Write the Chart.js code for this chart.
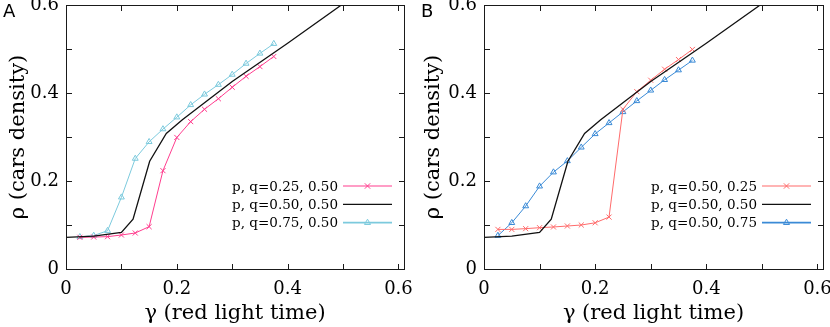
<!DOCTYPE html>
<html>
<head>
<meta charset="utf-8">
<script src="https://cdn.jsdelivr.net/npm/chart.js@4.4.1/dist/chart.umd.min.js"></script>
<style>
  body { margin: 0; background: #fff; }
  #wrap { position: relative; width: 830px; height: 327px; }
  canvas { position: absolute; top: 0; }
  .frame { position: absolute; box-sizing: border-box; border: 1px solid #1a1a1a; pointer-events: none; }
  .tick { position: absolute; background: #1a1a1a; pointer-events: none; }
</style>
</head>
<body>
<div id="wrap">
  <canvas id="chartA" width="415" height="327" style="left:0"></canvas>
  <canvas id="chartB" width="415" height="327" style="left:415px"></canvas>
</div>
<script>
// red light time, sampled points
const gamma = [0.025, 0.05, 0.075, 0.1, 0.125, 0.15, 0.175, 0.2, 0.225, 0.25, 0.275, 0.3, 0.325, 0.35, 0.375];
// p, q = 0.50, 0.50 curve (no markers)
const gammaCurve = [0, 0.05, 0.1, 0.121, 0.151, 0.181, 0.21, 0.3, 0.4, 0.497];
const rhoCurve = [0.072, 0.0745, 0.083, 0.113, 0.245, 0.308, 0.339, 0.426, 0.513, 0.6];

// panel A
const rhoA_p025 = [0.072, 0.0727, 0.0735, 0.0773, 0.0818, 0.0962, 0.2235, 0.299, 0.335, 0.363, 0.387, 0.413, 0.438, 0.46, 0.483];
const rhoA_p075 = [0.073, 0.076, 0.087, 0.163, 0.251, 0.289, 0.318, 0.345, 0.373, 0.397, 0.419, 0.442, 0.467, 0.49, 0.512];
// panel B
const rhoB_q025 = [0.09, 0.09, 0.0917, 0.0939, 0.0955, 0.0977, 0.1, 0.105, 0.118, 0.363, 0.403, 0.429, 0.454, 0.476, 0.499];
const rhoB_q075 = [0.0758, 0.105, 0.143, 0.188, 0.22, 0.2455, 0.2765, 0.307, 0.332, 0.357, 0.382, 0.406, 0.43, 0.452, 0.474];

const labelsA = ['p, q=0.25, 0.50', 'p, q=0.50, 0.50', 'p, q=0.75, 0.50'];
const labelsB = ['p, q=0.50, 0.25', 'p, q=0.50, 0.50', 'p, q=0.50, 0.75'];

const tickValues = [0, 0.2, 0.4, 0.6];
const tickLabels = ['0', '0.2', '0.4', '0.6'];
const xMarks = [0.1, 0.2, 0.3, 0.4, 0.5, 0.6];
const yMarks = [0.1, 0.2, 0.3, 0.4, 0.5];

const pts = (xs, ys) => xs.map((x, i) => ({x: x, y: ys[i]}));

function drawFrame(chart) {
    const ctx = chart.ctx;
    const a = chart.chartArea;
    const sx = chart.scales.x, sy = chart.scales.y;
    const l = Math.round(a.left) + 0.5, r = Math.round(a.right) + 0.5;
    const t = Math.round(a.top) + 0.5, b = Math.round(a.bottom) + 0.5;
    ctx.save();
    ctx.setLineDash([]);
    ctx.globalAlpha = 1;
    ctx.strokeStyle = '#1a1a1a';
    ctx.lineWidth = 1;
    ctx.beginPath();
    ctx.rect(l, t, r - l, b - t);
    xMarks.forEach(v => {
        const px = Math.round(sx.getPixelForValue(v)) + 0.5;
        ctx.moveTo(px, b); ctx.lineTo(px, b - 5);
        ctx.moveTo(px, t); ctx.lineTo(px, t + 5);
    });
    yMarks.forEach(v => {
        const py = Math.round(sy.getPixelForValue(v)) + 0.5;
        ctx.moveTo(l, py); ctx.lineTo(l + 5, py);
        ctx.moveTo(r, py); ctx.lineTo(r - 5, py);
    });
    ctx.stroke();
    ctx.restore();
}

// same frame as page elements laid over the canvas, placed from the chart's scales
function overlayFrame(chart, offsetX) {
    const wrap = document.getElementById('wrap');
    const a = chart.chartArea;
    const sx = chart.scales.x, sy = chart.scales.y;
    const l = Math.round(a.left), r = Math.round(a.right);
    const t = Math.round(a.top), b = Math.round(a.bottom);
    const add = (cls, x, y, w, h) => {
        const d = document.createElement('div');
        d.className = cls;
        d.style.left = (offsetX + x) + 'px';
        d.style.top = y + 'px';
        d.style.width = w + 'px';
        d.style.height = h + 'px';
        wrap.appendChild(d);
    };
    add('frame', l, t, r - l + 1, b - t + 1);
    xMarks.forEach(v => {
        const px = Math.round(sx.getPixelForValue(v));
        add('tick', px, b - 5, 1, 5);
        add('tick', px, t + 1, 1, 5);
    });
    yMarks.forEach(v => {
        const py = Math.round(sy.getPixelForValue(v));
        add('tick', l + 1, py, 5, 1);
        add('tick', r - 5, py, 5, 1);
    });
}

// panel letter and legend inside the plot
const legendPlugin = {
    id: 'insideLegend',
    afterDraw(chart, args, opts) {
        const ctx = chart.ctx;
        const a = chart.chartArea;
        ctx.save();
        ctx.fillStyle = '#000';
        ctx.font = '18px "DejaVu Sans"';
        ctx.textBaseline = 'alphabetic';
        ctx.textAlign = 'left';
        ctx.fillText(opts.letter, opts.letterX, 17);

        ctx.font = '13.5px "DejaVu Serif"';
        ctx.textAlign = 'right';
        ctx.textBaseline = 'middle';
        chart.data.datasets.forEach((ds, i) => {
            const y = a.top + 181 + i * 18.3;
            ctx.fillStyle = '#000';
            ctx.fillText(ds.label, a.right - 66, y + 1);
            const x0 = a.right - 61, x1 = a.right - 12;
            ctx.strokeStyle = ds.borderColor;
            ctx.lineWidth = ds.legendWidth;
            ctx.beginPath();
            ctx.moveTo(x0, y); ctx.lineTo(x1, y);
            ctx.stroke();
            const cx = (x0 + x1) / 2, rr = ds.pointRadius;
            ctx.lineWidth = 1;
            if (ds.pointStyle === 'crossRot') {
                ctx.beginPath();
                ctx.moveTo(cx - rr * 0.75, y - rr * 0.75); ctx.lineTo(cx + rr * 0.75, y + rr * 0.75);
                ctx.moveTo(cx - rr * 0.75, y + rr * 0.75); ctx.lineTo(cx + rr * 0.75, y - rr * 0.75);
                ctx.stroke();
            } else if (ds.pointStyle === 'triangle') {
                ctx.beginPath();
                ctx.moveTo(cx, y - rr);
                ctx.lineTo(cx + rr * 0.9, y + rr * 0.55);
                ctx.lineTo(cx - rr * 0.9, y + rr * 0.55);
                ctx.closePath();
                ctx.stroke();
            }
        });
        ctx.restore();
        drawFrame(chart);
    }
};

function makeChart(id, labels, lowSeries, highSeries, colLow, colHigh, yWidth, padRight, letter, letterX) {
    return new Chart(document.getElementById(id), {
        type: 'line',
        data: {
            datasets: [{
                label: labels[0],
                data: pts(gamma, lowSeries),
                borderColor: colLow,
                borderWidth: 1,
                legendWidth: 1.2,
                pointStyle: 'crossRot',
                pointRadius: 3.6,
                pointBorderWidth: 1,
                pointBorderColor: colLow,
                order: 2
            }, {
                label: labels[1],
                data: pts(gammaCurve, rhoCurve),
                borderColor: '#111',
                borderWidth: 1.3,
                legendWidth: 1.3,
                pointRadius: 0,
                order: 1
            }, {
                label: labels[2],
                data: pts(gamma, highSeries),
                borderColor: colHigh,
                borderWidth: 1,
                legendWidth: 1.6,
                pointStyle: 'triangle',
                pointRadius: 3.4,
                pointBorderWidth: 1,
                pointBorderColor: colHigh,
                pointBackgroundColor: 'rgba(255,255,255,0)',
                order: 3
            }]
        },
        options: {
            responsive: false,
            animation: false,
            layout: { padding: { top: 5, right: padRight, left: 0, bottom: 0 } },
            plugins: {
                legend: { display: false },
                tooltip: { enabled: false },
                insideLegend: { letter: letter, letterX: letterX }
            },
            scales: {
                x: {
                    type: 'linear',
                    min: 0,
                    max: 0.61,
                    grid: { display: false },
                    border: { display: false },
                    afterBuildTicks: s => { s.ticks = tickValues.map(v => ({value: v})); },
                    afterFit: s => { s.height = 58; s.paddingLeft = 0; s.paddingRight = 0; },
                    ticks: {
                        autoSkip: false,
                        maxRotation: 0,
                        padding: 2,
                        color: '#000',
                        font: { family: '"DejaVu Serif"', size: 18 },
                        callback: (v, i) => tickLabels[i]
                    },
                    title: {
                        display: true,
                        text: 'γ (red light time)',
                        color: '#000',
                        font: { family: '"DejaVu Serif"', size: 21 },
                        padding: { top: 0, bottom: 1 }
                    }
                },
                y: {
                    type: 'linear',
                    min: 0,
                    max: 0.6,
                    grid: { display: false },
                    border: { display: false },
                    afterBuildTicks: s => { s.ticks = tickValues.map(v => ({value: v})); },
                    afterFit: s => { s.width = yWidth; s.paddingTop = 0; s.paddingBottom = 0; },
                    ticks: {
                        autoSkip: false,
                        padding: -1,
                        color: '#000',
                        font: { family: '"DejaVu Serif"', size: 18 },
                        callback: (v, i) => tickLabels[i]
                    },
                    title: {
                        display: true,
                        text: 'ρ (cars density)',
                        color: '#000',
                        font: { family: '"DejaVu Serif"', size: 21 },
                        padding: { top: 6, bottom: 0 }
                    }
                }
            }
        },
        plugins: [legendPlugin]
    });
}

const chartA = makeChart('chartA', labelsA, rhoA_p025, rhoA_p075, '#ff3d8e', '#7ccadd', 66, 11, 'A', 3);
const chartB = makeChart('chartB', labelsB, rhoB_q025, rhoB_q075, '#ff6b6b', '#3a8ad6', 69, 7, 'B', 6);
overlayFrame(chartA, 0);
overlayFrame(chartB, 415);
</script>
</body>
</html>
